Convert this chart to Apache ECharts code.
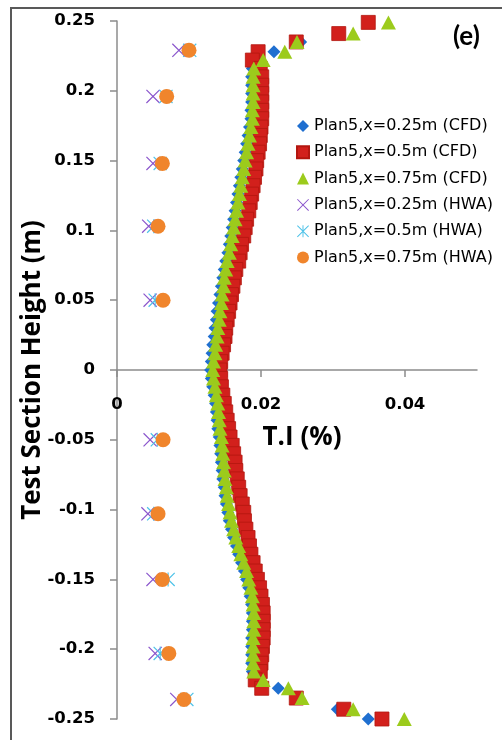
<!DOCTYPE html>
<html>
<head>
<meta charset="utf-8">
<script src="https://cdn.jsdelivr.net/npm/echarts@6/dist/echarts.min.js"></script>
<style>
  html, body { margin: 0; padding: 0; background: #fff; }
  #chart { width: 502px; height: 740px; }
</style>
</head>
<body>
<div id="chart"></div>
<script>
// heights (m) of the CFD profile points, wall to wall
var cfdHeights = [
  0.249, 0.241, 0.235, 0.228,
  0.222, 0.216, 0.210, 0.204, 0.198, 0.192, 0.186, 0.180, 0.174, 0.168,
  0.162, 0.156, 0.150, 0.144, 0.138, 0.132, 0.126, 0.120, 0.114, 0.108,
  0.102, 0.096, 0.090, 0.084, 0.078, 0.072, 0.066, 0.060, 0.054, 0.048,
  0.042, 0.036, 0.030, 0.024, 0.018, 0.012, 0.006, 0,
  -0.006, -0.012, -0.018, -0.024, -0.030, -0.036, -0.042, -0.048, -0.054, -0.060,
  -0.066, -0.072, -0.078, -0.084, -0.090, -0.096, -0.102, -0.108, -0.114, -0.120,
  -0.126, -0.132, -0.138, -0.144, -0.150, -0.156, -0.162, -0.168, -0.174, -0.180,
  -0.186, -0.192, -0.198, -0.204, -0.210, -0.216, -0.222,
  -0.228, -0.235, -0.243, -0.250
];
// T.I of CFD, x = 0.25 m
var cfd025 = [
  0.0349, 0.0308, 0.0255, 0.0218,
  0.0192, 0.0188, 0.0187, 0.0187, 0.0187, 0.0187, 0.0186, 0.0186, 0.0184, 0.0182,
  0.0180, 0.0178, 0.0176, 0.0174, 0.0172, 0.0170, 0.0168, 0.0166, 0.0164, 0.0162,
  0.0160, 0.0158, 0.0156, 0.0154, 0.0151, 0.0149, 0.0147, 0.0145, 0.0143, 0.0141,
  0.0139, 0.0138, 0.0136, 0.0135, 0.0133, 0.0132, 0.0131, 0.0130,
  0.0131, 0.0133, 0.0135, 0.0137, 0.0138, 0.0139, 0.0140, 0.0142, 0.0143, 0.0144,
  0.0145, 0.0146, 0.0147, 0.0149, 0.0150, 0.0152, 0.0154, 0.0156, 0.0159, 0.0162,
  0.0166, 0.0169, 0.0173, 0.0177, 0.0180, 0.0183, 0.0185, 0.0187, 0.0188, 0.0188,
  0.0188, 0.0187, 0.0187, 0.0187, 0.0187, 0.0188, 0.0195,
  0.0224, 0.0250, 0.0306, 0.0349
];
// T.I of CFD, x = 0.5 m
var cfd05 = [
  0.0349, 0.0308, 0.0249, 0.0196,
  0.0188, 0.0199, 0.0201, 0.0201, 0.0201, 0.0201, 0.0201, 0.0201, 0.0200, 0.0199,
  0.0198, 0.0196, 0.0194, 0.0193, 0.0191, 0.0189, 0.0187, 0.0185, 0.0183, 0.0180,
  0.0178, 0.0176, 0.0173, 0.0171, 0.0169, 0.0165, 0.0163, 0.0161, 0.0159, 0.0157,
  0.0155, 0.0153, 0.0151, 0.0150, 0.0148, 0.0146, 0.0144, 0.0143,
  0.0144, 0.0145, 0.0147, 0.0149, 0.0151, 0.0153, 0.0155, 0.0157, 0.0160, 0.0162,
  0.0164, 0.0165, 0.0167, 0.0169, 0.0171, 0.0174, 0.0176, 0.0177, 0.0179, 0.0182,
  0.0184, 0.0186, 0.0189, 0.0192, 0.0195, 0.0198, 0.0200, 0.0202, 0.0203, 0.0203,
  0.0203, 0.0203, 0.0202, 0.0201, 0.0200, 0.0199, 0.0192,
  0.0201, 0.0249, 0.0315, 0.0368
];
// T.I of CFD, x = 0.75 m
var cfd075 = [
  0.0377, 0.0328, 0.0250, 0.0233,
  0.0203, 0.0190, 0.0189, 0.0189, 0.0189, 0.0189, 0.0188, 0.0188, 0.0186, 0.0184,
  0.0182, 0.0180, 0.0178, 0.0176, 0.0174, 0.0172, 0.0170, 0.0168, 0.0166, 0.0164,
  0.0162, 0.0160, 0.0158, 0.0156, 0.0153, 0.0151, 0.0149, 0.0148, 0.0146, 0.0145,
  0.0143, 0.0142, 0.0140, 0.0139, 0.0137, 0.0136, 0.0134, 0.0133,
  0.0134, 0.0136, 0.0138, 0.0140, 0.0141, 0.0142, 0.0143, 0.0145, 0.0146, 0.0147,
  0.0148, 0.0149, 0.0150, 0.0152, 0.0153, 0.0155, 0.0157, 0.0159, 0.0162, 0.0165,
  0.0169, 0.0172, 0.0176, 0.0180, 0.0183, 0.0186, 0.0188, 0.0189, 0.0190, 0.0190,
  0.0190, 0.0189, 0.0189, 0.0189, 0.0189, 0.0190, 0.0203,
  0.0238, 0.0257, 0.0328, 0.0399
];

// hot-wire measurements
var hwaHeights = [0.229, 0.196, 0.148, 0.103, 0.050, -0.050, -0.103, -0.150, -0.203, -0.236];
var hwa025 = [0.0086, 0.0050, 0.0050, 0.0044, 0.0046, 0.0046, 0.0043, 0.0050, 0.0053, 0.0083];
var hwa05  = [0.0101, 0.0068, 0.0060, 0.0051, 0.0053, 0.0056, 0.0051, 0.0071, 0.0060, 0.0097];
var hwa075 = [0.0100, 0.0069, 0.0063, 0.0057, 0.0064, 0.0064, 0.0057, 0.0063, 0.0072, 0.0093];

var seriesNames = [
  'Plan5,x=0.25m (CFD)', 'Plan5,x=0.5m (CFD)', 'Plan5,x=0.75m (CFD)',
  'Plan5,x=0.25m (HWA)', 'Plan5,x=0.5m (HWA)', 'Plan5,x=0.75m (HWA)'
];

function pairs(vals, hs) {
  return hs.map(function (h, i) { return [vals[i], h]; });
}

var crossPath = 'path://M0,0.6L0.6,0L10,9.4L9.4,10Z M9.4,0L10,0.6L0.6,10L0,9.4Z';
var starPath = 'path://M0,0.6L0.6,0L10,9.4L9.4,10Z M9.4,0L10,0.6L0.6,10L0,9.4Z M4.6,0L5.4,0L5.4,10L4.6,10Z';

var chart = echarts.init(document.getElementById('chart'));
var labelFont = { fontFamily: 'DejaVu Sans', fontWeight: 'bold', fontSize: 16.5, color: '#000' };
var titleFont = { fontFamily: 'Open Sans', fontWeight: 'bold', fontSize: 26, color: '#000' };
var axisGrey = { color: '#8c8c8c', width: 1.5 };

var option = {
  animation: false,
  backgroundColor: '#fff',
  grid: { left: 117, right: 25, top: 21, bottom: 21, outerBoundsMode: 'none', containLabel: false },
  xAxis: {
    type: 'value',
    min: 0, max: 0.05, interval: 0.02,
    // onZero is not honoured here, so the axis is lifted to the y = 0 line (half the plot height)
    offset: -349,
    name: 'T.I (%)',
    nameLocation: 'middle',
    nameGap: 55,
    nameTextStyle: Object.assign({ padding: [0, 0, 0, 10] }, titleFont),
    splitLine: { show: false },
    axisLine: { onZero: false, lineStyle: axisGrey },
    axisTick: { length: 7, lineStyle: axisGrey },
    axisLabel: Object.assign({ margin: 26, showMaxLabel: false }, labelFont)
  },
  yAxis: {
    type: 'value',
    min: -0.25, max: 0.25, interval: 0.05,
    name: 'Test Section Height (m)',
    nameLocation: 'middle',
    nameGap: 71,
    nameMoveOverlap: false,
    nameTextStyle: titleFont,
    splitLine: { show: false },
    axisLine: { onZero: false, lineStyle: axisGrey },
    axisTick: { length: 7, lineStyle: axisGrey },
    axisLabel: Object.assign({ margin: 22 }, labelFont)
  },
  legend: {
    orient: 'vertical',
    left: 291, top: 113,
    itemWidth: 12, itemHeight: 12, itemGap: 10.3,
    textStyle: { fontFamily: 'DejaVu Sans', fontSize: 16, color: '#000' },
    data: seriesNames
  },
  graphic: [
    { type: 'rect', shape: { x: 11, y: 8, width: 600, height: 800 },
      style: { fill: 'none', stroke: '#595959', lineWidth: 2 }, silent: true },
    { type: 'text', left: 453, top: 24,
      style: { text: '(e)', font: 'bold 26px Lato', fill: '#000' } }
  ],
  series: [
    { name: seriesNames[0], type: 'scatter', symbol: 'diamond', symbolSize: 13,
      itemStyle: { color: '#1f6fd0', opacity: 1 }, data: pairs(cfd025, cfdHeights) },
    { name: seriesNames[1], type: 'scatter', symbol: 'rect', symbolSize: 14,
      itemStyle: { color: '#d2201c', borderColor: '#b3160f', borderWidth: 0.8, opacity: 1 }, data: pairs(cfd05, cfdHeights) },
    { name: seriesNames[2], type: 'scatter', symbol: 'triangle', symbolSize: [15, 14],
      itemStyle: { color: '#9ccb1c', opacity: 1 }, data: pairs(cfd075, cfdHeights) },
    { name: seriesNames[3], type: 'scatter', symbol: crossPath, symbolSize: 14,
      itemStyle: { color: '#8a55cc', opacity: 1 }, data: pairs(hwa025, hwaHeights) },
    { name: seriesNames[4], type: 'scatter', symbol: starPath, symbolSize: 14,
      itemStyle: { color: '#4cc2e8', opacity: 1 }, data: pairs(hwa05, hwaHeights) },
    { name: seriesNames[5], type: 'scatter', symbol: 'circle', symbolSize: 15,
      itemStyle: { color: '#f0852c', opacity: 1 }, data: pairs(hwa075, hwaHeights) }
  ]
};
chart.setOption(option);
</script>
</body>
</html>
